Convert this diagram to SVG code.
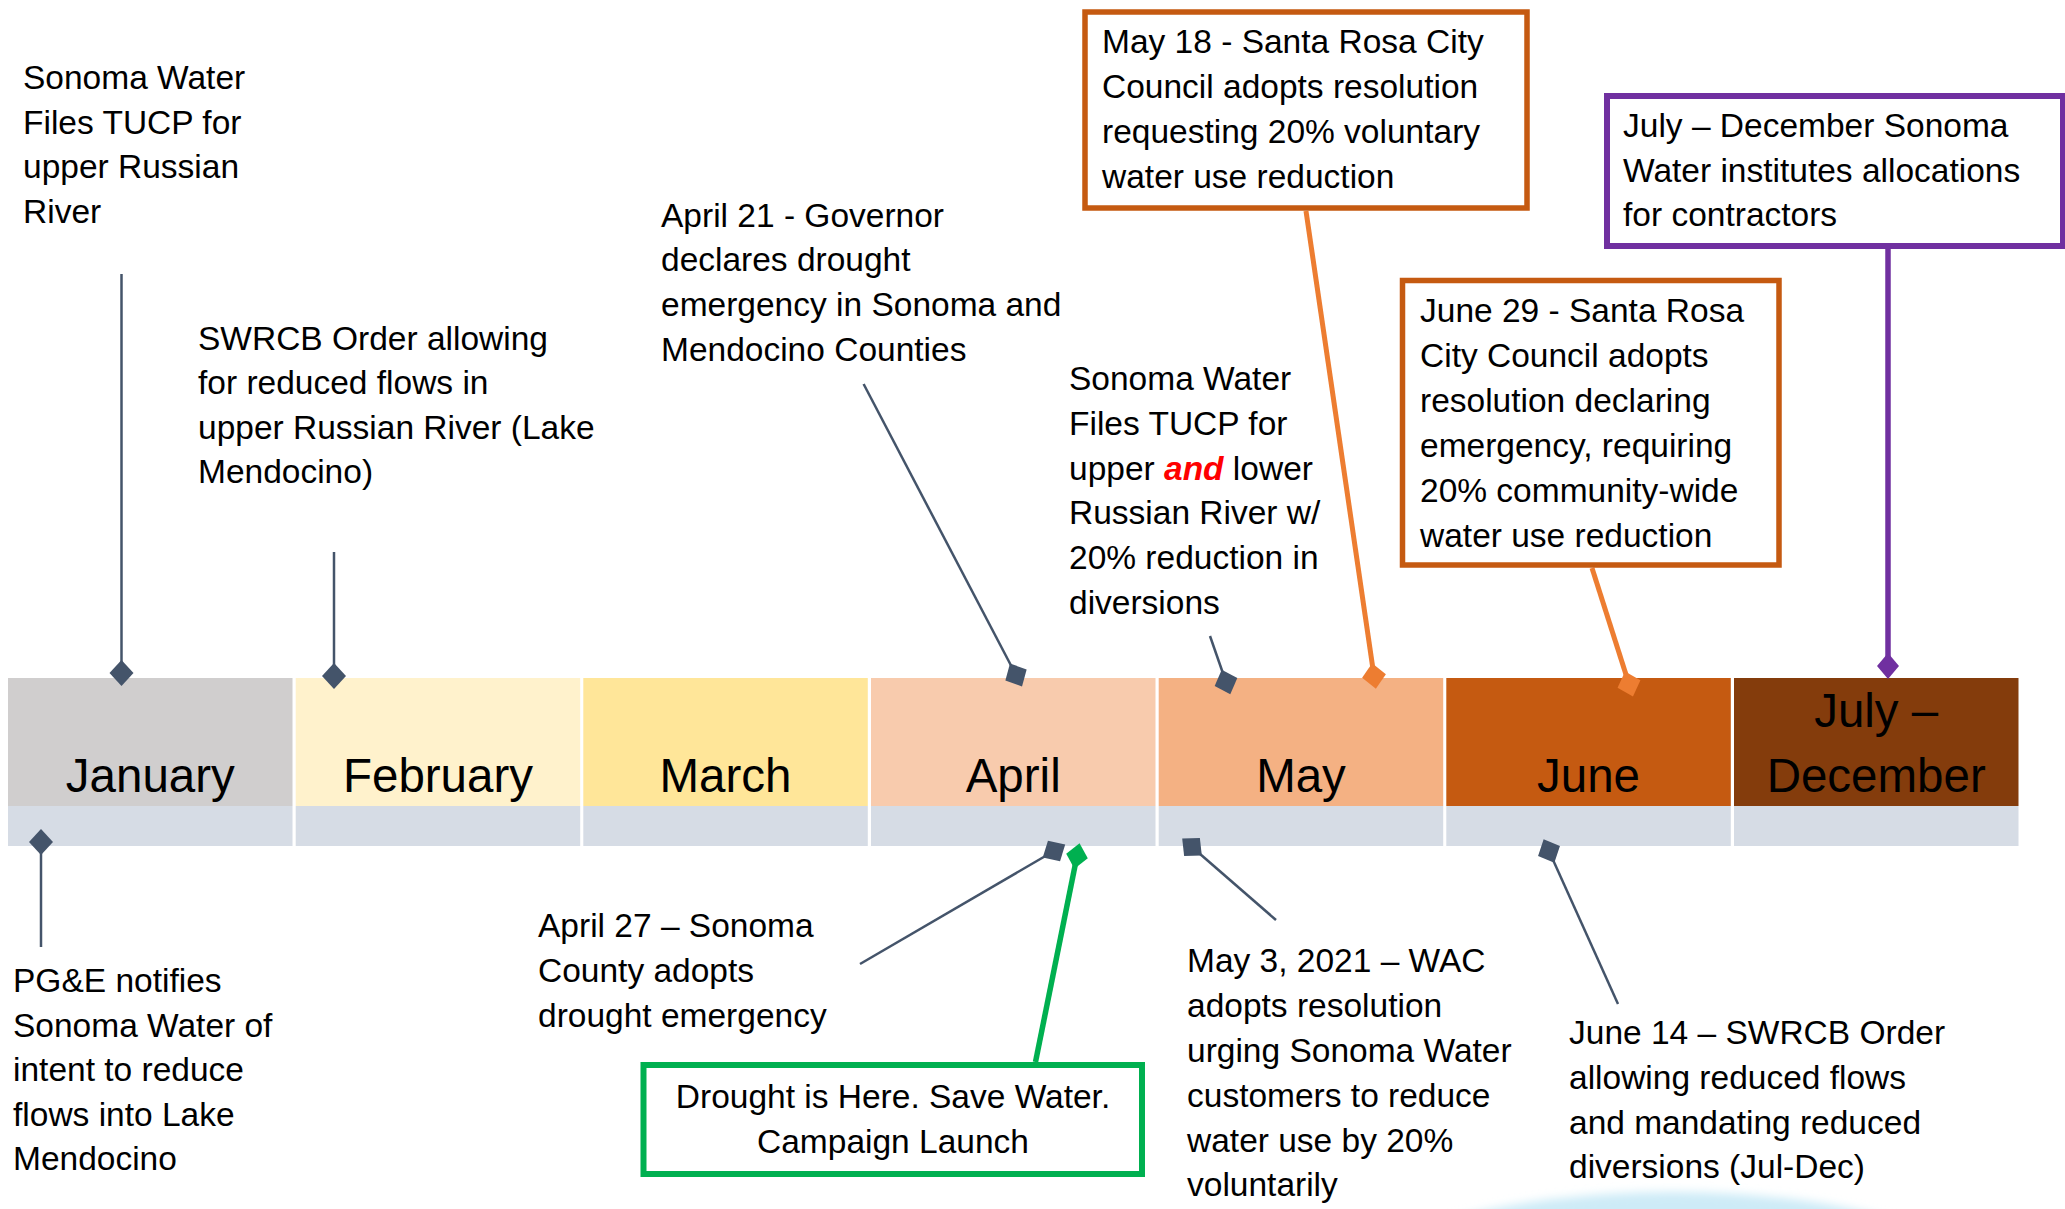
<svg xmlns="http://www.w3.org/2000/svg" width="2065" height="1209" viewBox="0 0 2065 1209">
<style>
.t{font-family:"Liberation Sans",Arial,sans-serif;font-size:33.5px;fill:#000}
.m{font-family:"Liberation Sans",Arial,sans-serif;font-size:47.5px;fill:#000;text-anchor:middle}
.g{stroke:#44546A;stroke-width:2.5;fill:none}
.o{stroke:#ED7D31;stroke-width:5;fill:none}
.p{stroke:#7030A0;stroke-width:5.5;fill:none}
.gr{stroke:#00B050;stroke-width:5.5;fill:none}
.strip{fill:#D6DCE5}
</style>
<defs>
<marker id="dg" markerUnits="userSpaceOnUse" markerWidth="30" markerHeight="30" viewBox="-15 -15 30 30" refX="0" refY="0" orient="auto"><path d="M-13,0 L0,-12 L13,0 L0,12 Z" fill="#44546A"/></marker>
<marker id="do" markerUnits="userSpaceOnUse" markerWidth="30" markerHeight="30" viewBox="-15 -15 30 30" refX="0" refY="0" orient="auto"><path d="M-13,0 L0,-12 L13,0 L0,12 Z" fill="#ED7D31"/></marker>
<marker id="dp" markerUnits="userSpaceOnUse" markerWidth="30" markerHeight="30" viewBox="-15 -15 30 30" refX="0" refY="0" orient="auto"><path d="M-13,0 L0,-11 L13,0 L0,11 Z" fill="#7030A0"/></marker>
<marker id="dgr" markerUnits="userSpaceOnUse" markerWidth="30" markerHeight="30" viewBox="-15 -15 30 30" refX="0" refY="0" orient="auto"><path d="M-13,0 L0,-11 L13,0 L0,11 Z" fill="#00B050"/></marker>
<filter id="blur" x="-20%" y="-50%" width="140%" height="200%"><feGaussianBlur stdDeviation="5"/></filter>
</defs>
<rect width="2065" height="1209" fill="#FFFFFF"/>
<ellipse cx="1672" cy="1292" rx="320" ry="100" fill="#CDEBF7" filter="url(#blur)"/>

<g id="timeline">
<rect x="8" y="678" width="284.5" height="128" fill="#D0CECE"/>
<rect x="295.7" y="678" width="284.5" height="128" fill="#FFF2CC"/>
<rect x="583.3" y="678" width="284.5" height="128" fill="#FFE699"/>
<rect x="871" y="678" width="284.5" height="128" fill="#F8CBAD"/>
<rect x="1158.7" y="678" width="284.5" height="128" fill="#F4B183"/>
<rect x="1446.3" y="678" width="284.5" height="128" fill="#C55A11"/>
<rect x="1734" y="678" width="284.5" height="128" fill="#843C0C"/>
<rect class="strip" x="8" y="806" width="284.5" height="40"/>
<rect class="strip" x="295.7" y="806" width="284.5" height="40"/>
<rect class="strip" x="583.3" y="806" width="284.5" height="40"/>
<rect class="strip" x="871" y="806" width="284.5" height="40"/>
<rect class="strip" x="1158.7" y="806" width="284.5" height="40"/>
<rect class="strip" x="1446.3" y="806" width="284.5" height="40"/>
<rect class="strip" x="1734" y="806" width="284.5" height="40"/>
<text class="m" x="150.3" y="792">January</text>
<text class="m" x="438" y="792">February</text>
<text class="m" x="725.5" y="792">March</text>
<text class="m" x="1013.2" y="792">April</text>
<text class="m" x="1301" y="792">May</text>
<text class="m" x="1588.5" y="792">June</text>
<text class="m" x="1876.2" y="727">July –</text>
<text class="m" x="1876.2" y="792">December</text>
</g>

<g id="connectors">
<line class="g" x1="121.5" y1="274" x2="121.5" y2="673" marker-end="url(#dg)"/>
<line class="g" x1="334" y1="552" x2="334" y2="676" marker-end="url(#dg)"/>
<line class="g" x1="863.6" y1="384" x2="1016" y2="675" marker-end="url(#dg)"/>
<line class="g" x1="1210" y1="636" x2="1226" y2="682" marker-end="url(#dg)"/>
<line class="o" x1="1306" y1="211" x2="1374" y2="676" marker-end="url(#do)"/>
<line class="o" x1="1592" y1="568" x2="1629" y2="684" marker-end="url(#do)"/>
<line class="p" x1="1888" y1="249" x2="1888" y2="666" marker-end="url(#dp)"/>
<line class="g" x1="41" y1="947" x2="41" y2="842" marker-end="url(#dg)"/>
<line class="g" x1="860" y1="964" x2="1054" y2="851" marker-end="url(#dg)"/>
<line class="gr" x1="1035.5" y1="1062" x2="1077" y2="856" marker-end="url(#dgr)"/>
<line class="g" x1="1276" y1="920" x2="1192" y2="847" marker-end="url(#dg)"/>
<line class="g" x1="1618" y1="1004" x2="1549" y2="851" marker-end="url(#dg)"/>
</g>

<g id="jan-tucp">
<text class="t" x="23" y="89">Sonoma Water</text>
<text class="t" x="23" y="134">Files TUCP for</text>
<text class="t" x="23" y="178">upper Russian</text>
<text class="t" x="23" y="223">River</text>
</g>

<g id="feb-swrcb">
<text class="t" x="198" y="350">SWRCB Order allowing</text>
<text class="t" x="198" y="394">for reduced flows in</text>
<text class="t" x="198" y="439">upper Russian River (Lake</text>
<text class="t" x="198" y="483">Mendocino)</text>
</g>

<g id="apr21">
<text class="t" x="661" y="227">April 21 - Governor</text>
<text class="t" x="661" y="271">declares drought</text>
<text class="t" x="661" y="316">emergency in Sonoma and</text>
<text class="t" x="661" y="361">Mendocino Counties</text>
</g>

<g id="may-tucp">
<text class="t" x="1069" y="390">Sonoma Water</text>
<text class="t" x="1069" y="435">Files TUCP for</text>
<text class="t" x="1069" y="480">upper <tspan fill="#FF0000" font-weight="bold" font-style="italic">and</tspan> lower</text>
<text class="t" x="1069" y="524">Russian River w/</text>
<text class="t" x="1069" y="569">20% reduction in</text>
<text class="t" x="1069" y="614">diversions</text>
</g>

<g id="may18">
<rect x="1085" y="12" width="442" height="196" fill="#FFFFFF" stroke="#C55A11" stroke-width="5.5"/>
<text class="t" x="1102" y="53">May 18 - Santa Rosa City</text>
<text class="t" x="1102" y="98">Council adopts resolution</text>
<text class="t" x="1102" y="143">requesting 20% voluntary</text>
<text class="t" x="1102" y="188">water use reduction</text>
</g>

<g id="jul-dec">
<rect x="1607" y="96" width="456" height="150" fill="#FFFFFF" stroke="#7030A0" stroke-width="6"/>
<text class="t" x="1623" y="137">July – December Sonoma</text>
<text class="t" x="1623" y="182">Water institutes allocations</text>
<text class="t" x="1623" y="226">for contractors</text>
</g>

<g id="jun29">
<rect x="1402.5" y="280.5" width="376.5" height="284.5" fill="#FFFFFF" stroke="#C55A11" stroke-width="5.5"/>
<text class="t" x="1420" y="322">June 29 - Santa Rosa</text>
<text class="t" x="1420" y="367">City Council adopts</text>
<text class="t" x="1420" y="412">resolution declaring</text>
<text class="t" x="1420" y="457">emergency, requiring</text>
<text class="t" x="1420" y="502">20% community-wide</text>
<text class="t" x="1420" y="547">water use reduction</text>
</g>

<g id="pge">
<text class="t" x="13" y="992">PG&amp;E notifies</text>
<text class="t" x="13" y="1037">Sonoma Water of</text>
<text class="t" x="13" y="1081">intent to reduce</text>
<text class="t" x="13" y="1126">flows into Lake</text>
<text class="t" x="13" y="1170">Mendocino</text>
</g>

<g id="apr27">
<text class="t" x="538" y="937">April 27 – Sonoma</text>
<text class="t" x="538" y="982">County adopts</text>
<text class="t" x="538" y="1027">drought emergency</text>
</g>

<g id="campaign">
<rect x="643.5" y="1065" width="498.5" height="109" fill="#FFFFFF" stroke="#00B050" stroke-width="6"/>
<text class="t" x="893" y="1108" text-anchor="middle">Drought is Here. Save Water.</text>
<text class="t" x="893" y="1153" text-anchor="middle">Campaign Launch</text>
</g>

<g id="may3">
<text class="t" x="1187" y="972">May 3, 2021 – WAC</text>
<text class="t" x="1187" y="1017">adopts resolution</text>
<text class="t" x="1187" y="1062">urging Sonoma Water</text>
<text class="t" x="1187" y="1107">customers to reduce</text>
<text class="t" x="1187" y="1152">water use by 20%</text>
<text class="t" x="1187" y="1196">voluntarily</text>
</g>

<g id="jun14">
<text class="t" x="1569" y="1044">June 14 – SWRCB Order</text>
<text class="t" x="1569" y="1089">allowing reduced flows</text>
<text class="t" x="1569" y="1134">and mandating reduced</text>
<text class="t" x="1569" y="1178">diversions (Jul-Dec)</text>
</g>
</svg>
